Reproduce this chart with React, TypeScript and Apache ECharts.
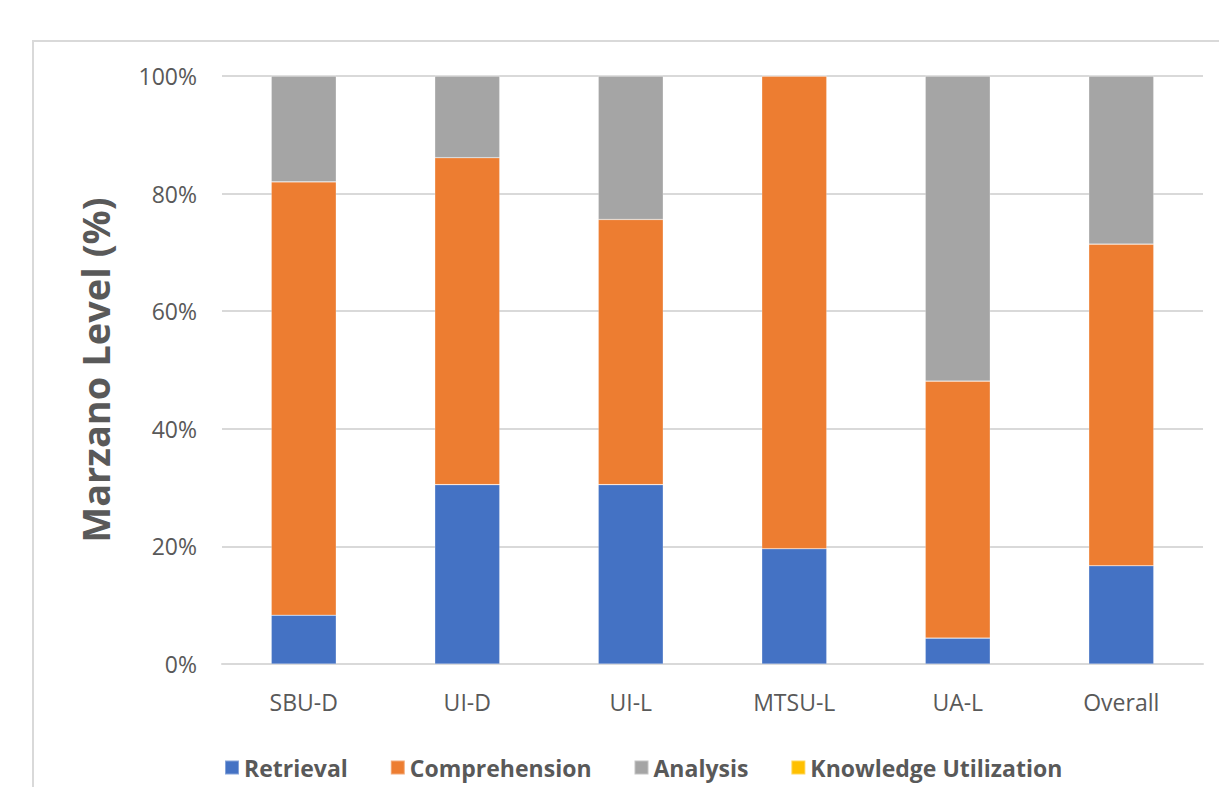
import React, { useEffect, useRef } from "react";
import * as echarts from "echarts";

// Share of items at each Marzano level, per course (percent of total)
const categories = ["SBU-D", "UI-D", "UI-L", "MTSU-L", "UA-L", "Overall"];
const retrieval = [8.3, 30.5, 30.5, 19.6, 4.4, 16.7];
const comprehension = [73.7, 55.6, 45.1, 80.4, 43.7, 54.7];
const analysis = [18.0, 13.9, 24.4, 0, 51.9, 28.6];
const knowledgeUtilization = [0, 0, 0, 0, 0, 0];
const yTicks = [0, 20, 40, 60, 80, 100];

const FONT = "'Open Sans', 'Noto Sans', sans-serif";
const TEXT_GREY = "#595959";
const GRID_GREY = "#D9D9D9";

export default function App() {
  const ref = useRef<HTMLDivElement>(null);

  useEffect(() => {
    if (!ref.current) return;
    const chart = echarts.init(ref.current, undefined, { renderer: "svg" });

    const mk = (name: string, data: number[], color: string) => ({
      name,
      type: "bar",
      stack: "total",
      data,
      barWidth: 65,
      itemStyle: { color, borderColor: "rgba(255,255,255,0.35)", borderWidth: 0.6 },
    });

    chart.setOption({
      animation: false,
      backgroundColor: "#ffffff",
      textStyle: { fontFamily: FONT },
      graphic: [
        {
          type: "rect",
          shape: { x: 33, y: 41, width: 1300, height: 900 },
          style: { fill: "none", stroke: GRID_GREY, lineWidth: 2 },
          silent: true,
          z: -1,
        },
      ],
      grid: { left: 222, right: 16, top: 76, bottom: 123 },
      legend: {
        left: 219,
        top: 751,
        icon: "rect",
        itemWidth: 14,
        itemHeight: 14,
        itemGap: 42,
        textStyle: { color: TEXT_GREY, fontSize: 23, fontWeight: "bold", fontFamily: FONT },
        data: ["Retrieval", "Comprehension", "Analysis", "Knowledge Utilization"],
      },
      xAxis: {
        type: "category",
        data: categories,
        axisLine: { lineStyle: { color: GRID_GREY, width: 2 } },
        axisTick: { show: false },
        axisLabel: { color: TEXT_GREY, fontSize: 23, margin: 26, fontFamily: FONT },
      },
      yAxis: {
        type: "value",
        min: yTicks[0],
        max: yTicks[yTicks.length - 1],
        interval: 20,
        name: "Marzano Level (%)",
        nameLocation: "middle",
        nameGap: 108,
        nameTextStyle: { color: TEXT_GREY, fontSize: 38, fontWeight: "bold", fontFamily: FONT },
        axisLine: { show: false },
        axisTick: { show: false },
        splitLine: { lineStyle: { color: GRID_GREY, width: 2 } },
        axisLabel: {
          color: TEXT_GREY,
          fontSize: 23,
          margin: 25,
          fontFamily: FONT,
          formatter: (v: number) => `${v}%`,
        },
      },
      series: [
        mk("Retrieval", retrieval, "#4472C4"),
        mk("Comprehension", comprehension, "#ED7D31"),
        mk("Analysis", analysis, "#A5A5A5"),
        mk("Knowledge Utilization", knowledgeUtilization, "#FFC000"),
      ],
    });

    return () => chart.dispose();
  }, []);

  return (
    <div
      ref={ref}
      style={{ position: "fixed", left: 0, top: 0, width: 1219, height: 787 }}
    />
  );
}
